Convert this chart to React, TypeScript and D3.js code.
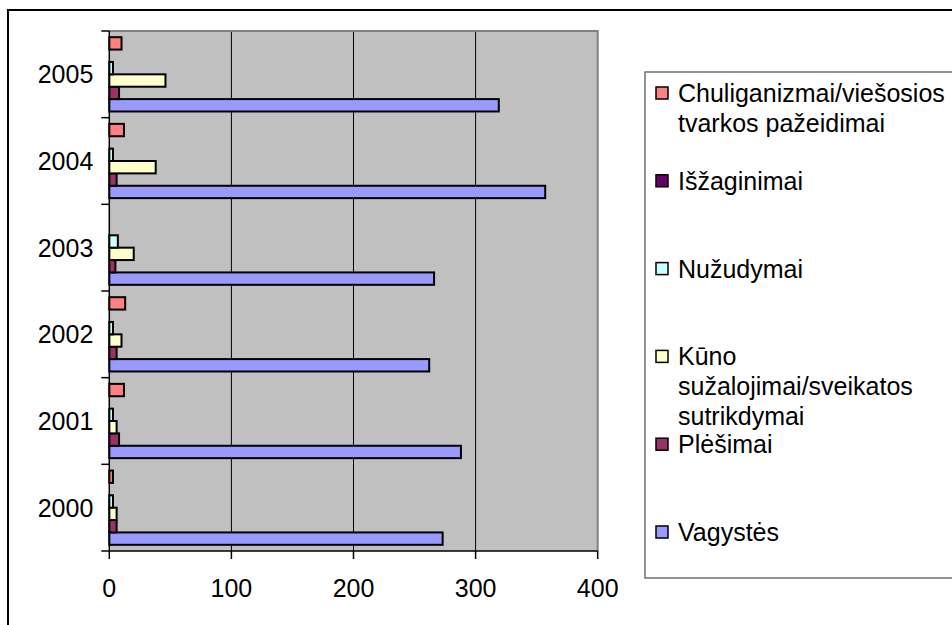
import * as d3 from "d3";

const years = ["2000", "2001", "2002", "2003", "2004", "2005"];

// series in Excel order (first = bottom bar in each group)
const seriesNames = [
  "Vagystės",
  "Plėšimai",
  "Kūno sužalojimai/sveikatos sutrikdymai",
  "Nužudymai",
  "Išžaginimai",
  "Chuliganizmai/viešosios tvarkos pažeidimai",
];

const vagystes = [273, 288, 262, 266, 357, 319];
const plesimai = [6, 8, 6, 5, 6, 8];
const kuno = [6, 6, 10, 20, 38, 46];
const nuzudymai = [3, 3, 3, 7, 3, 3];
const iszaginimai = [0, 0, 0, 0, 0, 0];
const chuliganizmai = [3, 12, 13, 0, 12, 10];

const seriesValues = [vagystes, plesimai, kuno, nuzudymai, iszaginimai, chuliganizmai];
const seriesColors = ["#9999FF", "#993366", "#FFFFCC", "#CCFFFF", "#660066", "#FF8080"];

// legend labels, already wrapped like the original
const legendLines = [
  ["Chuliganizmai/viešosios", "tvarkos pažeidimai"],
  ["Išžaginimai"],
  ["Nužudymai"],
  ["Kūno", "sužalojimai/sveikatos", "sutrikdymai"],
  ["Plėšimai"],
  ["Vagystės"],
];

const xTicks = [0, 100, 200, 300, 400];

const font = "'Liberation Sans', Arial, sans-serif";
const fontSize = 25;

export default function App() {
  const plot = { left: 109.3, right: 597.7, top: 31, bottom: 551 };

  const x = d3.scaleLinear().domain([0, 400]).range([plot.left, plot.right]);
  const y = d3
    .scaleBand<string>()
    .domain([...years].reverse())
    .range([plot.top, plot.bottom]);
  // top-to-bottom order inside a group: last series on top
  const inner = d3
    .scaleBand<number>()
    .domain(d3.range(seriesNames.length).reverse())
    .range([0, y.bandwidth()])
    .paddingOuter(0.5);

  const legendOrder = d3.range(seriesNames.length).reverse();
  const legendY = d3
    .scaleLinear()
    .domain([0, 5])
    .range([93, 532]);

  return (
    <svg
      width={952}
      height={625}
      style={{ position: "absolute", left: 0, top: 0, background: "#fff" }}
      fontFamily={font}
    >
      {/* outer frame */}
      <rect x={8} y={10} width={1000} height={700} fill="none" stroke="#000" strokeWidth={2} />

      {/* plot area */}
      <rect
        x={plot.left}
        y={plot.top}
        width={plot.right - plot.left}
        height={plot.bottom - plot.top}
        fill="#C0C0C0"
      />
      {xTicks.slice(1, -1).map((t) => (
        <line key={t} x1={x(t)} x2={x(t)} y1={plot.top} y2={plot.bottom} stroke="#000" strokeWidth={1} />
      ))}
      <polyline
        points={`${plot.left},${plot.top} ${plot.right},${plot.top} ${plot.right},${plot.bottom}`}
        fill="none"
        stroke="#808080"
        strokeWidth={2}
      />

      {/* bars */}
      {years.map((yr, yi) =>
        seriesValues.map((vals, si) =>
          vals[yi] > 0 ? (
            <rect
              key={`${yr}-${si}`}
              x={x(0)}
              y={(y(yr) as number) + (inner(si) as number)}
              width={x(vals[yi]) - x(0)}
              height={inner.bandwidth()}
              fill={seriesColors[si]}
              stroke="#000"
              strokeWidth={2}
            />
          ) : null
        )
      )}

      {/* axes */}
      <line x1={plot.left} x2={plot.left} y1={plot.top} y2={plot.bottom} stroke="#000" strokeWidth={1.5} />
      <line x1={plot.left} x2={plot.right} y1={plot.bottom} y2={plot.bottom} stroke="#000" strokeWidth={1.5} />
      {[...years.map((yr) => y(yr) as number), plot.bottom].map((v, i) => (
        <line key={i} x1={plot.left - 8} x2={plot.left} y1={v} y2={v} stroke="#000" strokeWidth={1.5} />
      ))}
      {xTicks.map((t) => (
        <line key={t} x1={x(t)} x2={x(t)} y1={plot.bottom} y2={plot.bottom + 8} stroke="#000" strokeWidth={1.5} />
      ))}
      {years.map((yr) => (
        <text
          key={yr}
          x={plot.left - 16}
          y={(y(yr) as number) + y.bandwidth() / 2}
          textAnchor="end"
          dominantBaseline="central"
          fontSize={fontSize}
        >
          {yr}
        </text>
      ))}
      {xTicks.map((t) => (
        <text
          key={t}
          x={x(t)}
          y={588}
          textAnchor="middle"
          dominantBaseline="central"
          fontSize={fontSize}
        >
          {t}
        </text>
      ))}

      {/* legend */}
      <rect x={645} y={72} width={400} height={506} fill="#fff" stroke="#707070" strokeWidth={1.5} />
      {legendOrder.map((si, li) => (
        <g key={si} transform={`translate(0,${legendY(li)})`}>
          <rect x={656} y={-6} width={12} height={12} fill={seriesColors[si]} stroke="#000" strokeWidth={1.5} />
          {legendLines[li].map((ln, k) => (
            <text key={k} x={678} y={k * 30} dominantBaseline="central" fontSize={fontSize}>
              {ln}
            </text>
          ))}
        </g>
      ))}
    </svg>
  );
}
